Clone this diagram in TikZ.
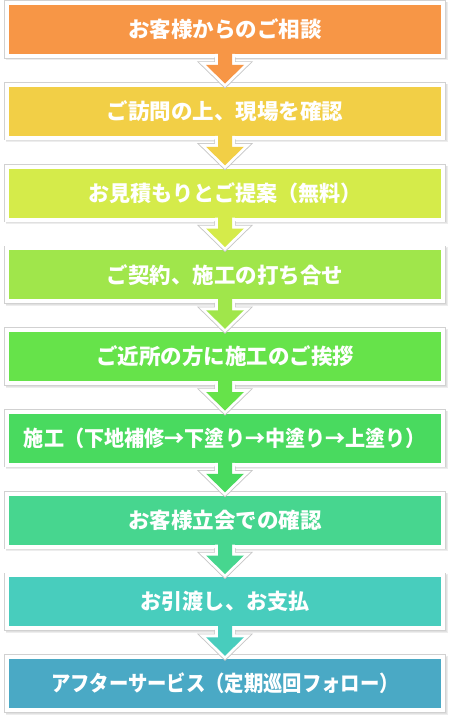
\documentclass[tikz,border=0pt]{standalone}
\usepackage{fontspec}
\usepackage{graphicx}
\usetikzlibrary{calc}
\newfontfamily\jp{Noto Sans CJK JP}
\definecolor{c1}{HTML}{F79646}
\definecolor{c2}{HTML}{F2CF46}
\definecolor{c3}{HTML}{D5EB4A}
\definecolor{c4}{HTML}{A0E64B}
\definecolor{c5}{HTML}{66E34A}
\definecolor{c6}{HTML}{49DA5F}
\definecolor{c7}{HTML}{47D68F}
\definecolor{c8}{HTML}{48CDBD}
\definecolor{c9}{HTML}{4AA9C5}
\tikzset{
  stepbox/.style={minimum width=436pt, minimum height=53pt, inner sep=0pt, outer sep=0pt,
    draw=white, line width=4pt,
    preaction={draw=black!18, line width=5.2pt},
    text=white, font=\jp\bfseries\fontsize{21.5}{25}\selectfont},
  boxshadow/.style={fill=black!12},
  arrowedge/.style={draw=black!22, line width=7.4pt, line join=miter},
  arrowwhite/.style={draw=white, line width=5.6pt, line join=miter}
}
\begin{document}
\begin{tikzpicture}[x=1pt,y=-1pt]
\useasboundingbox (0,0) rectangle (450,717);
\fill[white] (0,0) rectangle (450,717);
\foreach \i/\s/\t in {1/1/{お客様からのご相談},2/1/{ご訪問の上、現場を確認},3/0.98/{お見積もりとご提案（無料）},4/1/{ご契約、施工の打ち合せ},5/1/{ご近所の方に施工のご挨拶},6/0.935/{施工（下地補修→下塗り→中塗り→上塗り）},7/1/{お客様立会での確認},8/0.98/{お引渡し、お支払},9/0.9/{アフターサービス（定期巡回フォロー）}} {
  \pgfmathsetmacro\yc{29.5+81.75*(\i-1)}
  \fill[black!7] (5.5,\yc-27.5) rectangle (447.5,\yc+31);
  \fill[boxshadow] (6,\yc-27) rectangle (446.5,\yc+30);
  \node[stepbox, fill=c\i] (b\i) at (225,\yc) {\scalebox{\s}[1]{\t}};
}
\foreach \i in {1,...,8} {
  \begin{scope}[shift={($(b\i.south)+(0,-2)$)}]
    \draw[arrowedge] (-7,3.5) -- (-7,11) -- (-19,11) -- (0,29.5) -- (19,11) -- (7,11) -- (7,3.5);
    \draw[arrowwhite] (-7,0) -- (-7,11) -- (-19,11) -- (0,29.5) -- (19,11) -- (7,11) -- (7,0);
    \fill[c\i] (-7,-1) -- (-7,11) -- (-19,11) -- (0,29.5) -- (19,11) -- (7,11) -- (7,-1) -- cycle;
  \end{scope}
}
\end{tikzpicture}
\end{document}
